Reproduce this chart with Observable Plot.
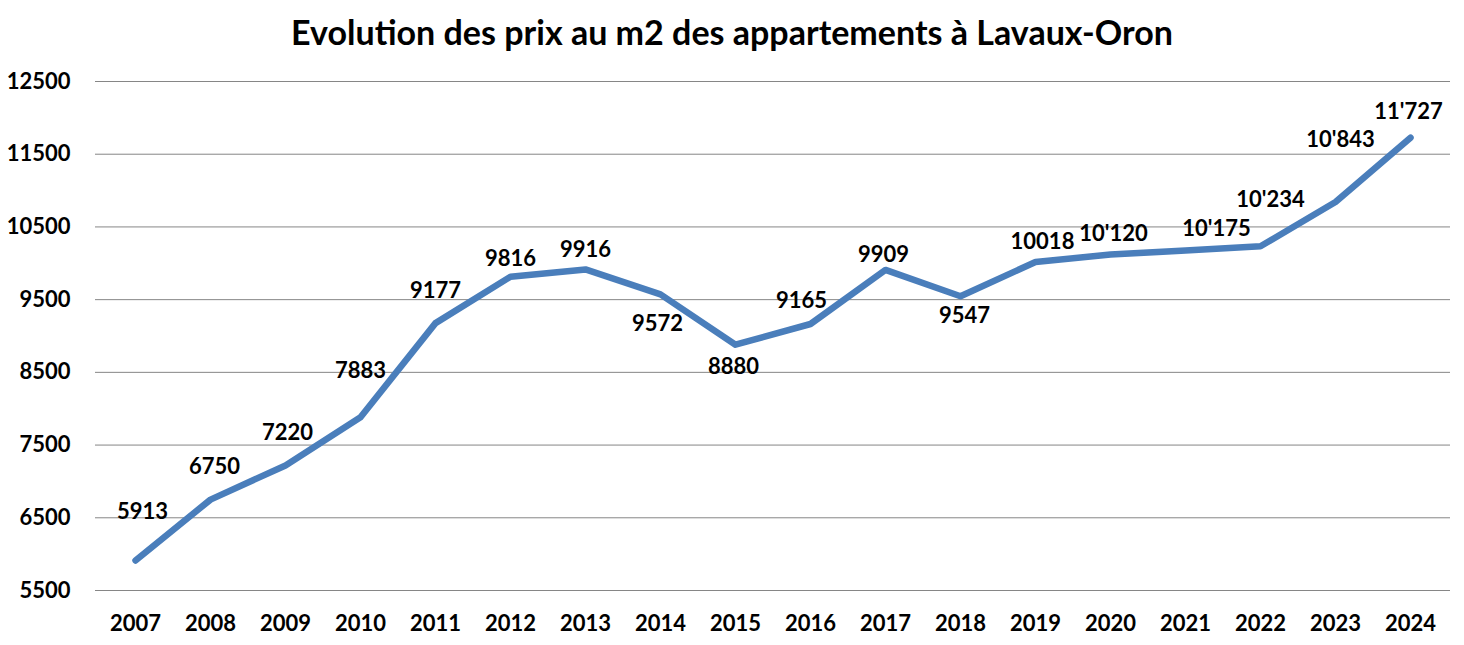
<!DOCTYPE html>
<html><head><meta charset="utf-8">
<script src="https://cdn.jsdelivr.net/npm/d3@7"></script>
<script src="https://cdn.jsdelivr.net/npm/@observablehq/plot@0.6"></script>
<style>
body{margin:0;background:#fff;width:1464px;height:645px;overflow:hidden;font-family:Lato,"Open Sans",sans-serif}
#title{height:60px;position:relative}
#t{position:absolute;left:0;right:0;top:2px;text-align:center;font-weight:bold;font-size:31px;line-height:60px;color:#000;white-space:nowrap}
#chart svg{display:block}
</style></head><body>
<div id="title"><div id="t">Evolution des prix au m2 des appartements à Lavaux-Oron</div></div>
<div id="chart"></div>
<script>
const years = ["2007","2008","2009","2010","2011","2012","2013","2014","2015","2016","2017","2018","2019","2020","2021","2022","2023","2024"];
const prices = [5913,6750,7220,7883,9177,9816,9916,9572,8880,9165,9909,9547,10018,10120,10175,10234,10843,11727];
const labels = ["5913","6750","7220","7883","9177","9816","9916","9572","8880","9165","9909","9547","10018","10'120","10'175","10'234","10'843","11'727"];
const yTicks = [5500,6500,7500,8500,9500,10500,11500,12500];
// label placement offsets (px) relative to each point
const labelOffsets = [[7,-49],[4,-33],[2,-32],[0,-46],[0,-32],[0,-18],[0,-19],[-3,30],[-2,22],[-9,-23],[-2,-15],[4,20],[7,-20],[3,-21],[31,-22],[10,-46],[5,-62],[-2,-26]];

const data = years.map((y,i)=>({year:y, price:prices[i], label:labels[i], dx:labelOffsets[i][0], dy:labelOffsets[i][1]}));

const font = {fontSize:22, fontWeight:"bold", fill:"#000"};

const chart = Plot.plot({
  width:1464, height:585,
  marginTop:21, marginBottom:55, marginLeft:95, marginRight:14,
  style:{fontFamily:"Lato, 'Open Sans', sans-serif", background:"#fff", color:"#000"},
  x:{type:"point", domain:years, padding:0.5, align:0.5},
  y:{domain:[5500,12500]},
  marks:[
    Plot.gridY(yTicks, {stroke:"#868686", strokeOpacity:1, strokeWidth:1}),
    Plot.axisY(yTicks, {tickSize:0, tickPadding:25, label:null, tickFormat:d=>String(d), ...font}),
    Plot.axisX({tickSize:0, tickPadding:25, label:null, ...font}),
    Plot.line(data, {x:"year", y:"price", stroke:"#4A7EBB", strokeWidth:6.5, strokeLinejoin:"round", strokeLinecap:"round"}),
    ...data.map(d => Plot.text([d], {x:"year", y:"price", text:"label", dx:d.dx, dy:d.dy, ...font}))
  ]
});
document.getElementById("chart").appendChild(chart);

// fit title to the reference width
const t = document.getElementById("t");
const r = document.createRange(); r.selectNodeContents(t);
const w = r.getBoundingClientRect().width;
t.style.fontSize = (31*882/w).toFixed(2)+"px";
</script>
</body></html>
